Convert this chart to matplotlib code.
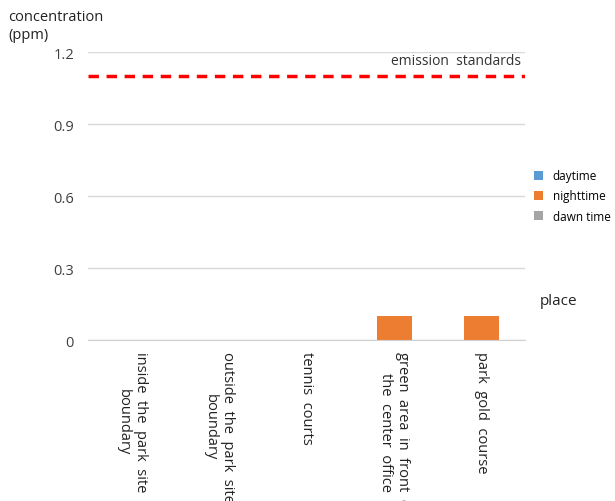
import matplotlib.pyplot as plt
import numpy as np

plt.rcParams['font.family'] = ['Open Sans', 'DejaVu Sans']

lugares = ['inside  the  park  site\nboundary', 'outside  the  park  site\nboundary',
           'tennis  courts', 'green  area  in  front  of\nthe  center  office', 'park  gold  course']
daytime = [0, 0, 0, 0, 0]
nighttime = [0, 0, 0, 0.1, 0.1]
dawn_time = [0, 0, 0, 0, 0]
norma = 1.1
yticks = [0, 0.3, 0.6, 0.9, 1.2]
ytick_labels = ['0', '0.3', '0.6', '0.9', '1.2']

fig = plt.figure(figsize=(6.15, 5.02), dpi=100)
ax = fig.add_axes([0.143, 0.3207, 0.711, 0.5737])

x = np.arange(len(lugares))
w = 0.4
ax.bar(x - w, daytime, w, color='#5b9bd5', label='daytime')
ax.bar(x, nighttime, w, color='#ed7d31', label='nighttime')
ax.bar(x + w, dawn_time, w, color='#a5a5a5', label='dawn time')

ax.axhline(norma, color='#ff0000', lw=2.5, ls=(0, (3, 2.2)), zorder=3)
ax.text(len(lugares) - 0.55, norma + 0.035, 'emission  standards', ha='right', va='bottom',
        fontsize=10, color='#333333')

ax.set_xlim(-0.5, len(lugares) - 0.5)
ax.set_ylim(0, 1.2)
ax.set_yticks(yticks)
ax.set_yticklabels(ytick_labels, fontsize=10.5, color='#404040')
ax.set_xticks(x)
ax.set_xticklabels(lugares, rotation=270, fontsize=10.5, color='#222222',
                   va='top', ha='center', linespacing=1.25)
ax.tick_params(length=0, pad=8)
ax.tick_params(axis='y', pad=10)
ax.grid(axis='y', color='#d9d9d9', lw=1)
ax.set_axisbelow(True)
for s in ['top', 'right', 'left']:
    ax.spines[s].set_visible(False)
ax.spines['bottom'].set_color('#d0d0d0')

fig.text(0.013, 0.98, 'concentration\n(ppm)', fontsize=10.5, color='#222222',
         va='top', ha='left', linespacing=1.3)
fig.text(0.877, 0.4, 'place', fontsize=11, color='#222222', va='center')

fig.legend(loc='upper left', bbox_to_anchor=(0.86, 0.67), frameon=False,
           fontsize=8.5, handlelength=0.8, handleheight=0.8, handletextpad=0.8,
           labelspacing=0.6, borderaxespad=0)

fig.savefig('out.png', dpi=100)
